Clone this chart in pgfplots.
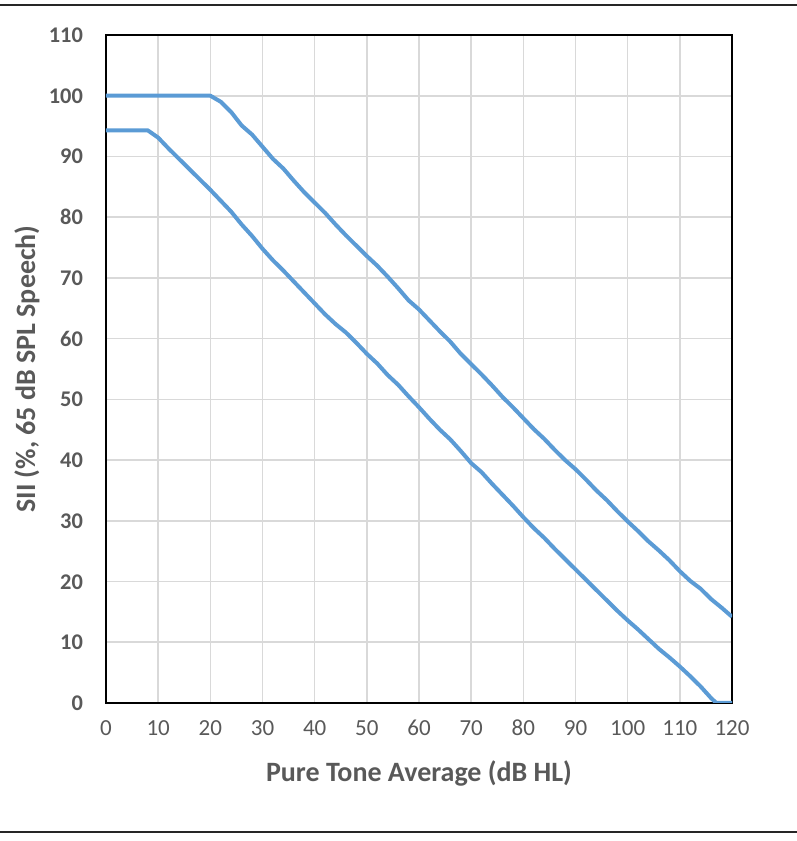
\documentclass[border=0pt]{standalone}
\usepackage{fontspec}
\setmainfont{Carlito}
\usepackage{pgfplots}
\pgfplotsset{compat=1.18}
\definecolor{linblue}{HTML}{5B9BD5}
\definecolor{txtgray}{HTML}{595959}
\definecolor{gridgray}{HTML}{D9D9D9}
\begin{document}
\begin{tikzpicture}[x=1pt,y=1pt]
\useasboundingbox (0,0) rectangle (398.5,420.5);
\draw[line width=1.2pt,black!85] (0,418) -- (398.5,418);
\draw[line width=1.2pt,black!85] (0,4.5) -- (398.5,4.5);
\begin{axis}[
  at={(53pt,69pt)}, anchor=south west,
  scale only axis, width=313pt, height=334pt,
  xmin=0, xmax=120, ymin=0, ymax=110,
  xtick distance=10, ytick distance=10,
  major tick length=0pt,
  grid=major,
  major grid style={gridgray, line width=0.8pt},
  axis line style={black, line width=1pt},
  /pgf/number format/assume math mode=true,
  tick label style={font=\fontsize{11.5}{13}\selectfont, text=txtgray, text height=7.5pt, text depth=0pt},
  yticklabel style={font=\fontsize{11.2}{13}\selectfont\bfseries, xshift=-8pt},
  xticklabel style={yshift=-5pt},
  xlabel={Pure Tone Average (dB HL)},
  ylabel={SII (\%, 65 dB SPL Speech)},
  label style={font=\fontsize{14}{16}\selectfont\bfseries, text=txtgray},
  xlabel style={at={(axis description cs:0.5,-0.1048)}, anchor=center},
  ylabel style={at={(axis description cs:-0.1262,0.5)}, anchor=center},
]
\addplot[linblue, line width=2pt, line join=round] coordinates {
(0,100) (20,100) (22,99.0) (24,97.3) (26,95.1) (28,93.6) (30,91.6) (32,89.6)
(34,88.0) (36,86.0) (38,84.1) (40,82.4) (42,80.7) (44,78.8) (46,77.0)
(48,75.3) (50,73.6) (52,72.0) (54,70.2) (56,68.3) (58,66.3) (60,64.8)
(62,63.0) (64,61.2) (66,59.5) (68,57.5) (70,55.8) (72,54.1) (74,52.3)
(76,50.4) (78,48.7) (80,46.9) (82,45.1) (84,43.5) (86,41.7) (88,40.0)
(90,38.5) (92,36.8) (94,35.0) (96,33.4) (98,31.6) (100,29.9) (102,28.3)
(104,26.6) (106,25.1) (108,23.5) (110,21.7) (112,20.1) (114,18.8)
(116,17.1) (118,15.7) (120,14.2)
};
\addplot[linblue, line width=2pt, line join=round] coordinates {
(0,94.3) (8,94.3) (10,93.1) (12,91.3) (14,89.6) (16,87.9) (18,86.2)
(20,84.5) (22,82.7) (24,80.9) (26,78.8) (28,76.9) (30,74.8) (32,72.9)
(34,71.2) (36,69.4) (38,67.6) (40,65.8) (42,64.0) (44,62.4) (46,61.0)
(48,59.3) (50,57.5) (52,55.9) (54,54.0) (56,52.4) (58,50.5) (60,48.7)
(62,46.8) (64,45.0) (66,43.4) (68,41.5) (70,39.5) (72,38.0) (74,36.1)
(76,34.3) (78,32.5) (80,30.6) (82,28.8) (84,27.2) (86,25.4) (88,23.7)
(90,22.0) (92,20.3) (94,18.6) (96,16.9) (98,15.2) (100,13.6) (102,12.1)
(104,10.5) (106,8.9) (108,7.5) (110,6.0) (112,4.4) (114,2.7) (116,0.8)
(117,0) (120,0)
};
\end{axis}
\end{tikzpicture}
\end{document}
